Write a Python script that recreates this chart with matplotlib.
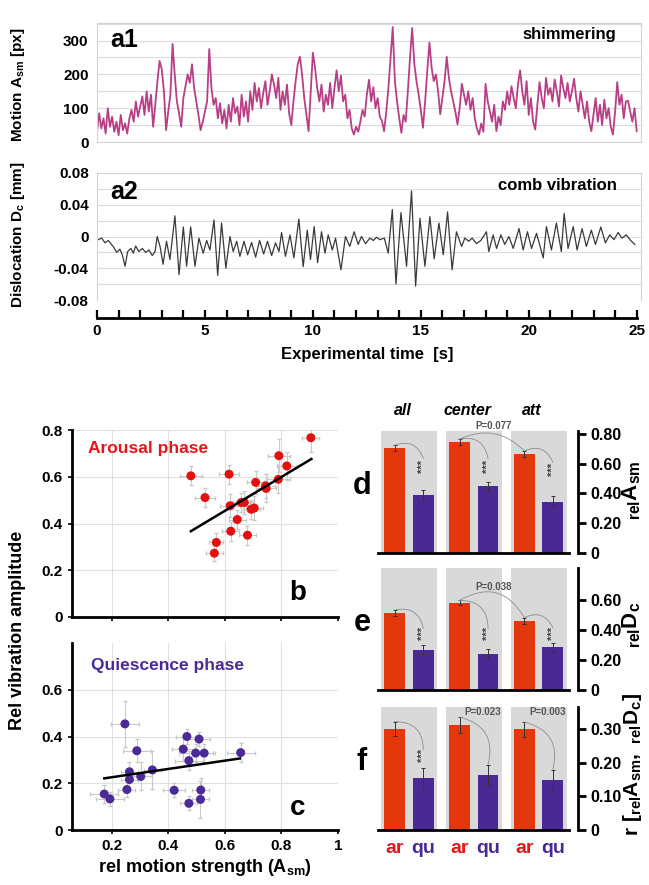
import numpy as np
import matplotlib
matplotlib.use("Agg")
import matplotlib.pyplot as plt
import matplotlib.transforms as mtransforms

plt.rcParams["font.family"] = ["Liberation Sans", "DejaVu Sans"]
plt.rcParams["font.weight"] = "bold"
plt.rcParams["axes.labelweight"] = "bold"
plt.rcParams["mathtext.fontset"] = "custom"
plt.rcParams["mathtext.rm"] = "Liberation Sans:bold"
plt.rcParams["mathtext.bf"] = "Liberation Sans:bold"
plt.rcParams["mathtext.it"] = "Liberation Sans:italic:bold"

# ---- a1: motion trace (0.1 s steps) ----
a1_motion = [
    30, 85, 40, 70, 25, 100, 45, 75, 30, 60, 20, 80, 35, 55, 25,
    70, 95, 60, 120, 75, 105, 135, 80, 150, 90, 140, 45, 110,
    180, 240, 215, 150, 35,
    90, 140, 290, 200, 120, 85, 45,
    130, 165, 200, 175, 230, 160, 120, 80, 35,
    60, 90, 120, 275, 160, 110, 130,
    70, 115, 55, 95, 40, 110,
    60, 130, 85, 105, 50, 140, 75, 120, 60,
    150, 95, 175, 120, 160, 100, 145, 180, 110, 150, 200, 170, 130, 190, 95, 150,
    110, 170, 85, 50,
    120, 180, 230, 252, 200, 130,
    80, 32, 150, 264, 220, 160,
    120, 170, 90, 140, 110, 175, 100, 160,
    212, 150, 197, 120, 140,
    70, 95, 40, 22, 45, 30,
    60, 95, 75, 140, 184,
    120, 162, 100, 130, 75, 62, 32,
    90, 160, 250, 340,
    180, 120, 70, 27,
    80, 60, 150, 250, 337,
    230, 180, 140, 95, 42,
    120, 210, 294,
    220, 180, 200, 150, 82, 130,
    180, 252, 190, 150,
    120, 90, 52, 100,
    172, 140, 110, 150, 95, 130,
    70, 40, 22, 55, 30,
    172, 120, 90, 60, 110, 32, 75, 50,
    120, 95, 150, 110, 165, 130, 100, 170,
    212, 150, 110, 180, 80, 130, 60, 37,
    110, 177, 130, 100, 190, 140, 160, 120, 185, 150, 105, 197, 160, 130, 175, 120, 150, 187,
    130, 90, 150, 110, 70, 120, 60, 32,
    80, 130, 60, 110, 50, 125, 70, 100, 45, 22,
    90, 177,
    110, 140, 70, 120, 122, 90, 60, 100, 32,
]

# ---- a2: comb vibration (turning points) ----
a2_time = [
    0.06, 0.22, 0.37, 0.52, 0.76, 0.91, 1.06, 1.17, 1.30, 1.42, 1.57, 1.68, 1.79,
    1.94, 2.10, 2.25, 2.41, 2.56, 2.69, 2.79, 2.92, 3.06, 3.22, 3.38, 3.61, 3.80,
    4.00, 4.15, 4.34, 4.54, 4.72, 4.92, 5.08, 5.23, 5.42, 5.59, 5.77, 5.97, 6.16,
    6.31, 6.47, 6.62, 6.81, 6.98, 7.16, 7.35, 7.53, 7.72, 7.90, 8.09, 8.27, 8.43,
    8.55, 8.73, 8.94, 9.12, 9.35, 9.55, 9.74, 9.89, 10.06, 10.22, 10.40, 10.56,
    10.71, 10.90, 11.05, 11.30, 11.51, 11.71, 11.91, 12.10, 12.25, 12.44,
    12.64, 12.80, 12.95, 13.10, 13.31, 13.49, 13.68, 13.85, 14.08, 14.34, 14.57,
    14.76, 14.96, 15.19, 15.42, 15.62, 15.84, 16.04, 16.24, 16.45, 16.65, 16.89,
    17.04, 17.22, 17.38, 17.58, 17.78, 18.04, 18.15, 18.35, 18.51, 18.71, 18.89,
    19.08, 19.28, 19.55, 19.74, 19.94, 20.13, 20.36, 20.67, 20.82, 21.05, 21.28,
    21.51, 21.64, 21.82, 22.06, 22.24, 22.47, 22.67, 22.90, 23.09, 23.34, 23.55,
    23.75, 23.95, 24.14, 24.32, 24.52, 24.72, 24.91,
]
a2_disp = [
    -0.004, -0.002, -0.008, -0.005, -0.013, -0.020, -0.016, -0.023, -0.0375, -0.019, -0.015, -0.021, -0.012,
    -0.019, -0.015, -0.020, -0.017, -0.024, -0.019, 0.0, -0.0125, -0.035, -0.006, -0.029, 0.026, -0.048,
    0.012, -0.0375, 0.012, -0.0375, -0.002, -0.021, -0.005, -0.017, 0.021, -0.049, 0.017, -0.040, 0.0,
    -0.019, -0.006, -0.025, -0.006, -0.023, -0.0075, -0.026, -0.005, -0.022, -0.006, -0.024, -0.008, -0.019,
    0.005, -0.025, 0.002, -0.027, 0.022, -0.038, 0.008, -0.029, 0.0125, -0.033, 0.006, -0.021,
    0.002, -0.017, -0.002, -0.042, 0.0, -0.0125, 0.006, -0.010, 0.0, -0.009,
    -0.002, -0.005, -0.001, -0.004, -0.002, -0.021, 0.034, -0.060, 0.030, -0.0375, 0.0575,
    -0.0625, 0.023, -0.0375, 0.025, -0.028, 0.017, -0.023, 0.031, -0.042, 0.006, -0.0125,
    -0.002, -0.006, -0.002, -0.009, -0.005, 0.006, -0.019, 0.002, -0.015, 0.002, -0.010,
    0.0, -0.015, 0.010, -0.017, 0.006, -0.015, 0.004, -0.027, 0.0125, -0.017, 0.017,
    -0.019, 0.029, -0.015, 0.0125, -0.017, 0.010, -0.0125, 0.008, -0.010, 0.012, -0.008,
    0.002, -0.004, 0.005, -0.002, 0.002, -0.005, -0.010,
]

# ---- b: arousal phase ----
b_x = [0.480, 0.530, 0.615, 0.619, 0.658, 0.669, 0.644, 0.621, 0.570, 0.563,
       0.680, 0.693, 0.704, 0.709, 0.744, 0.746, 0.789, 0.791, 0.819, 0.904]
b_y = [0.604, 0.511, 0.611, 0.476, 0.490, 0.490, 0.417, 0.367, 0.319, 0.273,
       0.350, 0.461, 0.466, 0.576, 0.561, 0.550, 0.589, 0.690, 0.646, 0.767]
b_xerr = [0.04, 0.035, 0.035, 0.035, 0.03, 0.03, 0.03, 0.03, 0.025, 0.03,
          0.03, 0.03, 0.03, 0.03, 0.035, 0.035, 0.04, 0.04, 0.035, 0.03]
b_yerr = [0.04, 0.04, 0.04, 0.05, 0.04, 0.05, 0.04, 0.04, 0.04, 0.035,
          0.04, 0.04, 0.05, 0.05, 0.05, 0.06, 0.06, 0.07, 0.06, 0.06]
b_fit_x = [0.48, 0.906]
b_fit_y = [0.367, 0.676]

# ---- c: quiescence phase ----
c_x = [0.174, 0.194, 0.254, 0.247, 0.263, 0.263, 0.289, 0.303, 0.344, 0.421,
       0.453, 0.466, 0.473, 0.473, 0.497, 0.509, 0.515, 0.514, 0.527, 0.656]
c_y = [0.154, 0.133, 0.173, 0.454, 0.249, 0.216, 0.339, 0.229, 0.257, 0.170,
       0.346, 0.400, 0.297, 0.114, 0.329, 0.389, 0.171, 0.131, 0.329, 0.331]
c_xerr = [0.05, 0.05, 0.03, 0.05, 0.03, 0.03, 0.05, 0.04, 0.03, 0.04,
          0.04, 0.04, 0.05, 0.03, 0.06, 0.04, 0.03, 0.03, 0.04, 0.05]
c_yerr = [0.04, 0.03, 0.03, 0.10, 0.04, 0.05, 0.05, 0.06, 0.08, 0.03,
          0.05, 0.03, 0.04, 0.03, 0.04, 0.03, 0.05, 0.08, 0.04, 0.04]
c_fit_x = [0.174, 0.653]
c_fit_y = [0.221, 0.306]

# ---- d, e, f: bar panels ----
groups = ["all", "center", "att"]
d_ar = [0.704, 0.746, 0.664]
d_qu = [0.391, 0.449, 0.346]
d_ar_err = [0.02, 0.02, 0.022]
d_qu_err = [0.035, 0.03, 0.035]
e_ar = [0.513, 0.582, 0.462]
e_qu = [0.267, 0.240, 0.285]
e_ar_err = [0.02, 0.015, 0.02]
e_qu_err = [0.03, 0.03, 0.03]
f_ar = [0.302, 0.313, 0.300]
f_qu = [0.154, 0.164, 0.149]
f_ar_err = [0.021, 0.024, 0.022]
f_qu_err = [0.031, 0.031, 0.031]

RED = "#e5370c"
PURPLE = "#4a2995"
TXT_RED = "#e4161b"
MAGENTA = "#b83f86"

W, H = 649, 885
fig = plt.figure(figsize=(W / 100, H / 100), dpi=100)


def box(x0, y0, x1, y1):
    return fig.add_axes([x0 / W, 1 - y1 / H, (x1 - x0) / W, (y1 - y0) / H])


def gray_frame(ax):
    for s in ax.spines.values():
        s.set_color("#d2d2d2")
        s.set_linewidth(0.8)
    ax.grid(axis="y", color="#dcdcdc", lw=0.8)
    ax.set_axisbelow(True)
    ax.tick_params(length=0, labelsize=11, pad=6)


# a1
ax1 = box(97, 23, 641, 142)
t1 = np.arange(len(a1_motion)) * 0.1
ax1.plot(t1, a1_motion, color=MAGENTA, lw=1.3)
ax1.set_xlim(0, 25.2)
ax1.set_ylim(0, 352)
ax1.set_yticks(np.arange(0, 351, 50))
ax1.set_yticklabels(["0", "", "100", "", "200", "", "300", ""])
ax1.set_xticks([])
gray_frame(ax1)
ax1.text(0.025, 0.86, "a1", transform=ax1.transAxes, fontsize=18, va="center")
ax1.text(0.955, 0.9, "shimmering", transform=ax1.transAxes, fontsize=12, ha="right", va="center")

# a2
ax2 = box(97, 173, 641, 300)
ax2.plot(a2_time, a2_disp, color="#3a3a3a", lw=0.9)
ax2.set_xlim(0, 25.2)
ax2.set_ylim(-0.08, 0.08)
ax2.set_yticks(np.arange(-0.08, 0.081, 0.02))
ax2.set_yticklabels(["-0.08", "", "-0.04", "", "0", "", "0.04", "", "0.08"])
gray_frame(ax2)
ax2.spines["bottom"].set_position(("outward", 13))
ax2.spines["bottom"].set_color("black")
ax2.spines["bottom"].set_linewidth(2)
ax2.spines["bottom"].set_bounds(0, 25)
ax2.set_xticks(np.arange(0, 26, 5))
ax2.set_xticks(np.arange(0, 26, 1), minor=True)
ax2.tick_params(axis="x", which="both", direction="in", length=6, width=1.6, labelsize=11, pad=4)
ax2.text(0.025, 0.85, "a2", transform=ax2.transAxes, fontsize=18, va="center")
ax2.text(0.955, 0.9, "comb vibration", transform=ax2.transAxes, fontsize=12, ha="right", va="center")

fig.text(18 / W, 1 - 85 / H, r"Motion $\mathrm{A}_{\mathrm{sm}}$ [px]", rotation=90,
         ha="center", va="center", fontsize=11)
fig.text(18 / W, 1 - 235 / H, r"Dislocation $\mathrm{D}_{\mathrm{c}}$ [mm]", rotation=90,
         ha="center", va="center", fontsize=11)
fig.text(367 / W, 1 - 355 / H, "Experimental time  [s]", ha="center", va="center", fontsize=12)


# b and c scatter panels
def scatter_panel(ax, xs, ys, xe, ye, fx, fy, color):
    ax.errorbar(xs, ys, xerr=xe, yerr=ye, fmt="none", ecolor="#c9c9c9", elinewidth=0.8,
                capsize=1.5, zorder=2)
    ax.scatter(xs, ys, s=42, color=color, zorder=3, edgecolors="none")
    ax.plot(fx, fy, color="black", lw=1.8, zorder=4)
    ax.set_xlim(0.06, 1.0)
    ax.set_ylim(0, 0.8)
    ax.set_xticks([0.2, 0.4, 0.6, 0.8, 1.0])
    ax.grid(color="#e0e0e0", lw=0.8)
    ax.set_axisbelow(True)
    for s in ["top", "right"]:
        ax.spines[s].set_visible(False)
    for s in ["left", "bottom"]:
        ax.spines[s].set_linewidth(2)
    ax.tick_params(length=3, width=1.2, labelsize=11)


axb = box(72, 430, 338, 617)
scatter_panel(axb, b_x, b_y, b_xerr, b_yerr, b_fit_x, b_fit_y, "#e3100f")
axb.set_yticks([0, 0.2, 0.4, 0.6, 0.8])
axb.set_yticklabels(["0", "0.2", "0.4", "0.6", "0.8"])
axb.set_xticklabels([])
axb.text(0.06, 0.9, "Arousal phase", transform=axb.transAxes, color=TXT_RED, fontsize=12.5,
         va="center")
axb.text(0.85, 0.13, "b", transform=axb.transAxes, fontsize=20, ha="center", va="center")

axc = box(72, 643, 338, 830)
scatter_panel(axc, c_x, c_y, c_xerr, c_yerr, c_fit_x, c_fit_y, "#4b2a98")
axc.set_yticks([0, 0.2, 0.4, 0.6])
axc.set_yticklabels(["0", "0.2", "0.4", "0.6"])
axc.set_xticklabels(["0.2", "0.4", "0.6", "0.8", "1"])
axc.text(0.07, 0.88, "Quiescence phase", transform=axc.transAxes, color="#4b2a98", fontsize=12.5,
         va="center")
axc.text(0.85, 0.12, "c", transform=axc.transAxes, fontsize=20, ha="center", va="center")
axc.set_xlabel(r"rel motion strength ($\mathrm{A}_{\mathrm{sm}}$)", fontsize=13, labelpad=3)
fig.text(18 / W, 1 - 630 / H, "Rel vibration amplitude", rotation=90, ha="center", va="center",
         fontsize=13)


# d, e, f bar panels
def arc(ax, x1, y1, x2, y2, rad):
    ax.annotate("", xy=(x2, y2), xytext=(x1, y1), annotation_clip=False,
                arrowprops=dict(arrowstyle="-", color="#8c8c8c", lw=0.6,
                                connectionstyle=f"arc3,rad={rad}", shrinkA=0, shrinkB=0))


def bar_panel(ax, ar, qu, ar_err, qu_err, ymax, ticks, ticklabels, letter):
    g = np.arange(len(ar))
    for gi in g:
        ax.axvspan(gi - 0.432, gi + 0.432, color="#d9d9d9", lw=0, zorder=0)
    ax.bar(g - 0.22, ar, width=0.32, color=RED, zorder=2)
    ax.bar(g + 0.22, qu, width=0.32, color=PURPLE, zorder=2)
    ax.errorbar(g - 0.22, ar, yerr=ar_err, fmt="none", ecolor="#333333", elinewidth=0.7,
                capsize=1.5, capthick=0.7, zorder=3)
    ax.errorbar(g + 0.22, qu, yerr=qu_err, fmt="none", ecolor="#333333", elinewidth=0.7,
                capsize=1.5, capthick=0.7, zorder=3)
    ax.set_xlim(-0.48, 2.47)
    ax.set_ylim(0, ymax)
    ax.set_xticks([])
    ax.set_yticks(ticks)
    ax.set_yticklabels(ticklabels)
    ax.spines["left"].set_visible(False)
    ax.spines["top"].set_visible(False)
    ax.spines["bottom"].set_linewidth(2)
    ax.spines["right"].set_linewidth(2)
    ax.spines["right"].set_position(("outward", 6.5))
    ax.yaxis.tick_right()
    ax.tick_params(axis="y", length=6, width=2, labelsize=11.5, pad=3)
    ax.text(-0.085, 0.55, letter, transform=ax.transAxes, fontsize=22, ha="center", va="center")


def stars(ax, x, y):
    ax.text(x, y, "***", rotation=90, fontsize=8, color="#444444", ha="center", va="center")


axd = box(378, 431, 569, 553)
bar_panel(axd, d_ar, d_qu, d_ar_err, d_qu_err, 0.82, [0, 0.2, 0.4, 0.6, 0.8],
          ["0", "0.20", "0.40", "0.60", "0.80"], "d")
d_star = [0.585, 0.585, 0.56]
for i in range(3):
    stars(axd, i + 0.22, d_star[i])
    arc(axd, i - 0.22, d_ar[i] + d_ar_err[i], i + 0.22, d_star[i] + 0.05, -0.5)
arc(axd, 0.78, d_ar[1] + d_ar_err[1], 1.78, d_ar[2] + d_ar_err[2], -0.35)
axd.text(1.3, 0.855, "P=0.077", fontsize=7, color="#555555", ha="center", va="center")
blend = mtransforms.blended_transform_factory(axd.transData, axd.transAxes)
for i, name in enumerate(groups):
    axd.text(i - 0.1, 1.165, name, transform=blend, fontsize=11.5, style="italic",
             ha="center", va="center")
fig.text(632 / W, 1 - 490 / H, r"${}_{\mathrm{rel}}\mathrm{A}_{\mathrm{sm}}$", rotation=90,
         ha="center", va="center", fontsize=16)

axe = box(378, 568, 569, 690)
bar_panel(axe, e_ar, e_qu, e_ar_err, e_qu_err, 0.813, [0, 0.2, 0.4, 0.6],
          ["0", "0.20", "0.40", "0.60"], "e")
e_star = [0.375, 0.375, 0.38]
for i in range(3):
    stars(axe, i + 0.22, e_star[i])
    arc(axe, i - 0.22, e_ar[i] + e_ar_err[i], i + 0.22, e_star[i] + 0.035, -0.5)
arc(axe, 0.78, e_ar[1] + e_ar_err[1], 1.78, e_ar[2] + e_ar_err[2], -0.5)
axe.text(1.3, 0.687, "P=0.038", fontsize=7, color="#555555", ha="center", va="center")
fig.text(632 / W, 1 - 625 / H, r"${}_{\mathrm{rel}}\mathrm{D}_{\mathrm{c}}$", rotation=90,
         ha="center", va="center", fontsize=16)

axf = box(378, 707, 569, 830)
bar_panel(axf, f_ar, f_qu, f_ar_err, f_qu_err, 0.367, [0, 0.1, 0.2, 0.3],
          ["0", "0.10", "0.20", "0.30"], "f")
stars(axf, 0.22, 0.222)
arc(axf, -0.22, f_ar[0] + f_ar_err[0], 0.22, 0.24, -0.5)
for i, p in zip([1, 2], ["P=0.023", "P=0.003"]):
    arc(axf, i - 0.22, f_ar[i] + f_ar_err[i], i + 0.22, f_qu[i] + f_qu_err[i], -0.5)
    axf.text(i + 0.14, 0.352, p, fontsize=7, color="#555555", ha="center", va="center")
blend_f = mtransforms.blended_transform_factory(axf.transData, axf.transAxes)
for i in range(3):
    axf.text(i - 0.22, -0.15, "ar", transform=blend_f, color=TXT_RED, fontsize=14,
             ha="center", va="center")
    axf.text(i + 0.22, -0.15, "qu", transform=blend_f, color=PURPLE, fontsize=14,
             ha="center", va="center")
fig.text(632 / W, 1 - 765 / H,
         r"$\mathrm{r}\ [{}_{\mathrm{rel}}\mathrm{A}_{\mathrm{sm}},\ {}_{\mathrm{rel}}\mathrm{D}_{\mathrm{c}}]$",
         rotation=90, ha="center", va="center", fontsize=15)

fig.savefig("out.png", dpi=100)
